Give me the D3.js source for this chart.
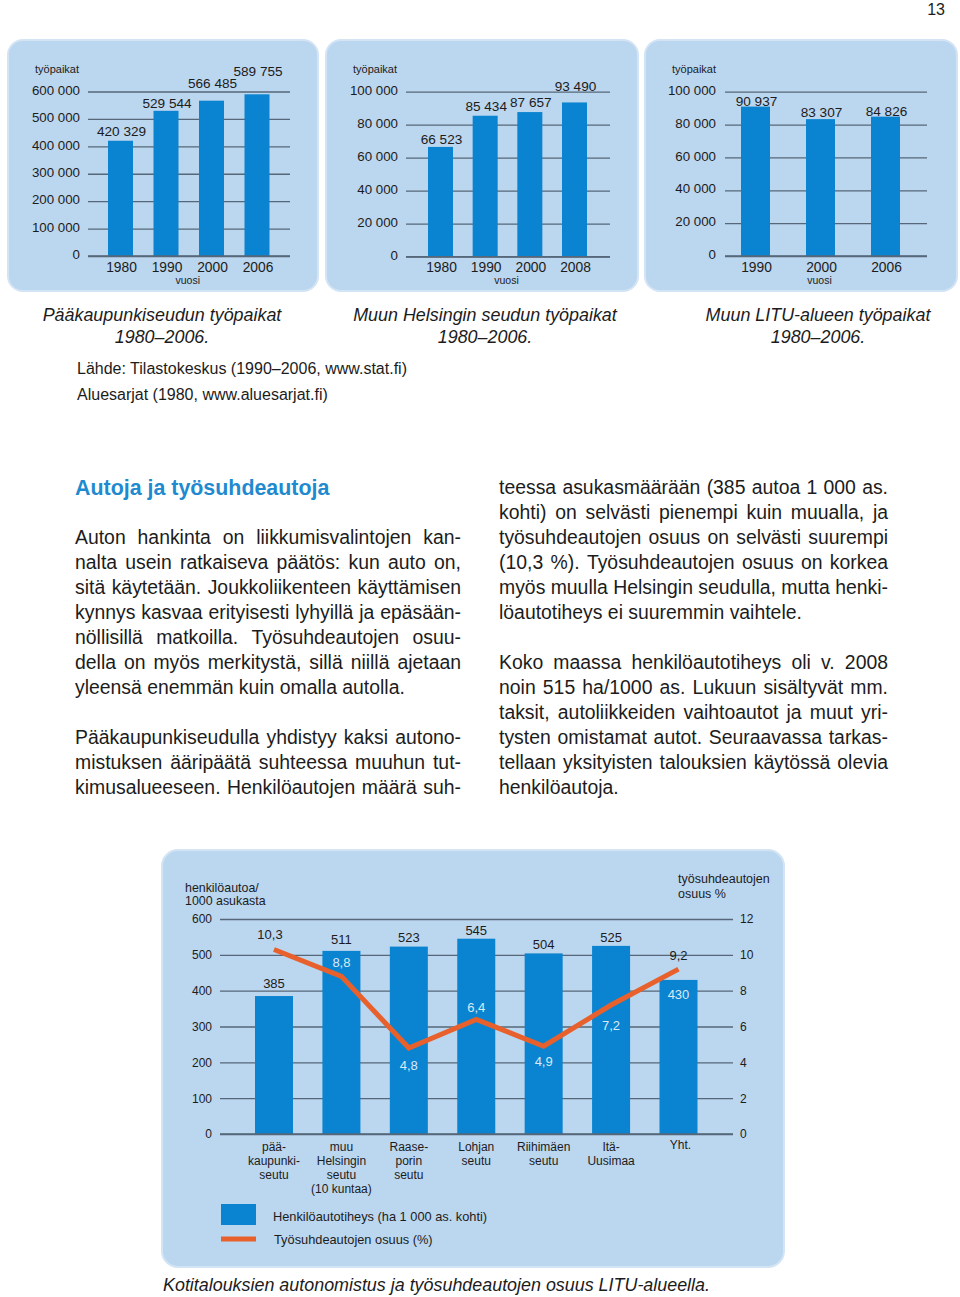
<!DOCTYPE html>
<html><head><meta charset="utf-8">
<script src="https://cdn.jsdelivr.net/npm/d3@7/dist/d3.min.js"></script>
<style>
html,body{margin:0;padding:0;background:#fff;}
svg{display:block;font-family:"Liberation Sans",Arial,Helvetica,sans-serif;}
</style></head>
<body>
<svg id="page" width="960" height="1297"></svg>
<script>
// ---------------- DATA ----------------
const years1 = ["1980","1990","2000","2006"];
const jobs1  = [420329, 529544, 566485, 589755];
const ticks1 = [0,100000,200000,300000,400000,500000,600000];

const years2 = ["1980","1990","2000","2008"];
const jobs2  = [66523, 85434, 87657, 93490];
const ticks2 = [0,20000,40000,60000,80000,100000];

const years3 = ["1990","2000","2006"];
const jobs3  = [90937, 83307, 84826];
const ticks3 = [0,20000,40000,60000,80000,100000];

const regions = ["pää-\nkaupunki-\nseutu","muu\nHelsingin\nseutu\n(10 kuntaa)","Raase-\nporin\nseutu","Lohjan\nseutu","Riihimäen\nseutu","Itä-\nUusimaa","Yht."];
const carDensity = [385, 511, 523, 545, 504, 525, 430];
const companyCarShare = [10.3, 8.8, 4.8, 6.4, 4.9, 7.2, 9.2];
const densityTicks = [0,100,200,300,400,500,600];
const shareTicks = [0,2,4,6,8,10,12];

// ---------------- STYLE ----------------
const PANEL = "#bbd6ef", PANEL_EDGE = "#d3e4f5", BAR = "#0a84d0", GRID = "#566779",
      ORANGE = "#e8612c", INK = "#1c1c1c", LIGHT = "#dbe9f6", HEAD = "#1f8ad0";

const loc = d3.formatLocale({decimal:",", thousands:" ", grouping:[3], currency:["","€"]});
const fmtInt = loc.format(",d");
const fmtDec = loc.format(",.1f");

const svg = d3.select("#page");

svg.append("text").attr("x",945).attr("y",15).attr("text-anchor","end")
  .attr("font-size",16).attr("fill",INK).text("13");

// ---------------- TOP PANELS ----------------
const topPanels = [
  {years:years1, vals:jobs1, ticks:ticks1, max:600000, rect:[8,40,310,251], grid:[88,290], yr:[256,91.5], tickRight:80,
   centers:[120.5,257], barW:25, lift:[5,3,13,18], title:["Pääkaupunkiseudun työpaikat","1980–2006."], titleX:162},
  {years:years2, vals:jobs2, ticks:ticks2, max:100000, rect:[326,40,312,251], grid:[406,610], yr:[256.7,91.7], tickRight:398,
   centers:[440.5,574.5], barW:25, lift:[3,5,5,11], title:["Muun Helsingin seudun työpaikat","1980–2006."], titleX:485},
  {years:years3, vals:jobs3, ticks:ticks3, max:100000, rect:[645,40,312,251], grid:[725,927], yr:[256,91.7], tickRight:716,
   centers:[755.5,885.5], barW:29, lift:[1,2,1], title:["Muun LITU-alueen työpaikat","1980–2006."], titleX:818}
];

topPanels.forEach(p => {
  const g = svg.append("g");
  g.append("rect").attr("x",p.rect[0]).attr("y",p.rect[1]).attr("width",p.rect[2]).attr("height",p.rect[3])
    .attr("rx",15).attr("fill",PANEL).attr("stroke",PANEL_EDGE).attr("stroke-width",2);
  const y = d3.scaleLinear().domain([0,p.max]).range(p.yr);
  const x = d3.scalePoint().domain(p.years).range(p.centers);

  const ax = d3.axisLeft(y).tickValues(p.ticks).tickFormat(d => d===0 ? "0" : fmtInt(d))
    .tickSize(-(p.grid[1]-p.grid[0])).tickPadding(p.grid[0]-p.tickRight);
  const ag = g.append("g").attr("transform",`translate(${p.grid[0]},0)`).call(ax);
  ag.select(".domain").remove();
  ag.selectAll("line").attr("stroke",GRID).attr("stroke-width",1.3);
  ag.selectAll("text").attr("font-size",13.3).attr("fill",INK).attr("font-family","Liberation Sans, Arial")
    .attr("dy","0.2em");

  g.append("text").attr("x",p.rect[0]+27).attr("y",73).attr("font-size",11).attr("fill",INK).text("työpaikat");

  g.selectAll("rect.bar").data(p.vals).join("rect").attr("class","bar")
    .attr("x",(d,i)=>x(p.years[i])-p.barW/2).attr("width",p.barW)
    .attr("y",d=>y(d)).attr("height",d=>y(0)-y(d)).attr("fill",BAR);

  g.append("line").attr("x1",p.grid[0]).attr("x2",p.grid[1]).attr("y1",y(0)).attr("y2",y(0))
    .attr("stroke",GRID).attr("stroke-width",1.5);

  g.selectAll("text.val").data(p.vals).join("text").attr("class","val")
    .attr("x",(d,i)=>x(p.years[i])+1).attr("y",(d,i)=>y(d)-p.lift[i])
    .attr("text-anchor","middle").attr("font-size",13.6).attr("fill",INK).text(d=>fmtInt(d));

  g.selectAll("text.yr").data(p.years).join("text").attr("class","yr")
    .attr("x",d=>x(d)+1).attr("y",271.5).attr("text-anchor","middle").attr("font-size",13.8).attr("fill",INK).text(d=>d);

  g.append("text").attr("x",(p.centers[0]+p.centers[1])/2-1).attr("y",284).attr("text-anchor","middle")
    .attr("font-size",10.5).attr("fill",INK).text("vuosi");

  g.selectAll("text.cap").data(p.title).join("text").attr("class","cap")
    .attr("x",p.titleX).attr("y",(d,i)=>321+i*22).attr("text-anchor","middle")
    .attr("font-size",17.9).attr("font-style","italic").attr("fill",INK).text(d=>d);
});

// sources
svg.append("text").attr("x",77).attr("y",374).attr("font-size",16).attr("fill",INK)
  .text("Lähde: Tilastokeskus (1990–2006, www.stat.fi)");
svg.append("text").attr("x",77).attr("y",400).attr("font-size",16).attr("fill",INK)
  .text("Aluesarjat (1980, www.aluesarjat.fi)");

// ---------------- ARTICLE TEXT ----------------
svg.append("text").attr("x",75).attr("y",495).attr("font-size",21.4).attr("font-weight","bold")
  .attr("fill",HEAD).text("Autoja ja työsuhdeautoja");

const leftLines = [
  ["Auton hankinta on liikkumisvalintojen kan-",1],
  ["nalta usein ratkaiseva päätös: kun auto on,",1],
  ["sitä käytetään. Joukkoliikenteen käyttämisen",1],
  ["kynnys kasvaa erityisesti lyhyillä ja epäsään-",1],
  ["nöllisillä matkoilla. Työsuhdeautojen osuu-",1],
  ["della on myös merkitystä, sillä niillä ajetaan",1],
  ["yleensä enemmän kuin omalla autolla.",0],
  null,
  ["Pääkaupunkiseudulla yhdistyy kaksi autono-",1],
  ["mistuksen ääripäätä suhteessa muuhun tut-",1],
  ["kimusalueeseen. Henkilöautojen määrä suh-",1]
];
const rightLines = [
  ["teessa asukasmäärään (385 autoa 1 000 as.",1],
  ["kohti) on selvästi pienempi kuin muualla, ja",1],
  ["työsuhdeautojen osuus on selvästi suurempi",1],
  ["(10,3 %). Työsuhdeautojen osuus on korkea",1],
  ["myös muulla Helsingin seudulla, mutta henki-",1],
  ["löautotiheys ei suuremmin vaihtele.",0],
  null,
  ["Koko maassa henkilöautotiheys oli v. 2008",1],
  ["noin 515 ha/1000 as. Lukuun sisältyvät mm.",1],
  ["taksit, autoliikkeiden vaihtoautot ja muut yri-",1],
  ["tysten omistamat autot. Seuraavassa tarkas-",1],
  ["tellaan yksityisten talouksien käytössä olevia",1],
  ["henkilöautoja.",0]
];
function column(lines, x0, y0, width){
  lines.forEach((ln,i)=>{
    if(!ln) return;
    const t = svg.append("text").attr("y",y0+i*25).attr("font-size",19.4).attr("fill",INK);
    if(!ln[1]){ t.attr("x",x0).text(ln[0]); return; }
    const words = ln[0].split(" ");
    const spans = words.map(w => t.append("tspan").text(w));
    const ws = spans.map(s => s.node().getComputedTextLength());
    const gap = (width - d3.sum(ws)) / (words.length-1);
    let cx = x0;
    spans.forEach((s,k)=>{ s.attr("x",cx); cx += ws[k] + gap; });
  });
}
column(leftLines, 75, 544, 386);
column(rightLines, 499, 494, 389);

// ---------------- BOTTOM CHART ----------------
const bg = svg.append("g");
bg.append("rect").attr("x",162).attr("y",850).attr("width",622).attr("height",417).attr("rx",16)
  .attr("fill",PANEL).attr("stroke",PANEL_EDGE).attr("stroke-width",2);

const gx0 = 220, gx1 = 733;
const yL = d3.scaleLinear().domain([0,600]).range([1134,919]);
const yR = d3.scaleLinear().domain([0,12]).range([1134,919]);
const xB = d3.scalePoint().domain(regions).range([274,678.5]);
const bw = 38;

const axL = bg.append("g").attr("transform",`translate(${gx0},0)`)
  .call(d3.axisLeft(yL).tickValues(densityTicks).tickSize(-(gx1-gx0)).tickPadding(8));
axL.select(".domain").remove();
axL.selectAll("line").attr("stroke",GRID).attr("stroke-width",1.3);
axL.selectAll("text").attr("font-size",12).attr("fill",INK).attr("font-family","Liberation Sans, Arial");

const axR = bg.append("g").attr("transform",`translate(${gx1},0)`)
  .call(d3.axisRight(yR).tickValues(shareTicks).tickSize(0).tickPadding(7));
axR.select(".domain").remove();
axR.selectAll("text").attr("font-size",12).attr("fill",INK).attr("font-family","Liberation Sans, Arial");

bg.selectAll("rect.cbar").data(carDensity).join("rect").attr("class","cbar")
  .attr("x",(d,i)=>xB(regions[i])-bw/2).attr("width",bw)
  .attr("y",d=>yL(d)).attr("height",d=>yL(0)-yL(d)).attr("fill",BAR);
bg.append("line").attr("x1",gx0).attr("x2",gx1).attr("y1",yL(0)).attr("y2",yL(0))
  .attr("stroke",GRID).attr("stroke-width",1.5);

const line = d3.line().x((d,i)=>xB(regions[i])).y(d=>yR(d));
bg.append("path").datum(companyCarShare).attr("d",line).attr("fill","none")
  .attr("stroke",ORANGE).attr("stroke-width",5).attr("stroke-linejoin","miter");

const valLift = [-8,-7,-5,-4,-4,-4,19];
bg.selectAll("text.cv").data(carDensity).join("text").attr("class","cv")
  .attr("x",(d,i)=>xB(regions[i])).attr("y",(d,i)=>yL(d)+valLift[i]).attr("text-anchor","middle")
  .attr("font-size",13).attr("fill",(d,i)=>valLift[i]>0?LIGHT:INK).text(d=>d);

const shLift = [-10,-9,22,-7,20,25,-9];
const shDx = [-4,0,0,0,0,0,0];
bg.selectAll("text.sv").data(companyCarShare).join("text").attr("class","sv")
  .attr("x",(d,i)=>xB(regions[i])+shDx[i]).attr("y",(d,i)=>yR(d)+shLift[i]).attr("text-anchor","middle")
  .attr("font-size",13).attr("fill",(d,i)=> (yR(d)+shLift[i]) > yL(carDensity[i]) ? LIGHT : INK)
  .text(d=>fmtDec(d));

regions.forEach((r,i)=>{
  const t = bg.append("text").attr("text-anchor","middle").attr("font-size",12).attr("fill",INK);
  r.split("\n").forEach((s,k)=>{
    t.append("tspan").attr("x",xB(r)+(r==="Yht."?2:0)).attr("y",(r==="Yht."?1149:1151)+k*14).text(s);
  });
});

bg.append("text").attr("x",185).attr("y",892).attr("font-size",12.4).attr("fill",INK).text("henkilöautoa/");
bg.append("text").attr("x",185).attr("y",905).attr("font-size",12.4).attr("fill",INK).text("1000 asukasta");
bg.append("text").attr("x",678).attr("y",883).attr("font-size",12.5).attr("fill",INK).text("työsuhdeautojen");
bg.append("text").attr("x",678).attr("y",898).attr("font-size",12.5).attr("fill",INK).text("osuus %");

// legend
bg.append("rect").attr("x",221).attr("y",1204).attr("width",35).attr("height",21).attr("fill",BAR);
bg.append("line").attr("x1",221).attr("x2",256).attr("y1",1239).attr("y2",1239).attr("stroke",ORANGE).attr("stroke-width",5);
bg.append("text").attr("x",273).attr("y",1221).attr("font-size",12.8).attr("fill",INK).text("Henkilöautotiheys (ha 1 000 as. kohti)");
bg.append("text").attr("x",274).attr("y",1244).attr("font-size",12.8).attr("fill",INK).text("Työsuhdeautojen osuus (%)");

svg.append("text").attr("x",163).attr("y",1291).attr("font-size",17.9).attr("font-style","italic").attr("fill",INK)
  .text("Kotitalouksien autonomistus ja työsuhdeautojen osuus LITU-alueella.");
</script>
</body></html>
